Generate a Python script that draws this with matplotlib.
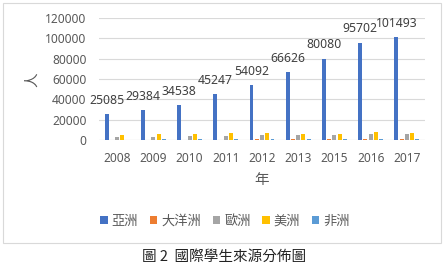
import numpy as np
import matplotlib
matplotlib.use("Agg")
import matplotlib.pyplot as plt
from matplotlib.patches import Rectangle

plt.rcParams['font.family'] = ['Noto Sans', 'Noto Sans CJK TC', 'DejaVu Sans']

years = ["2008", "2009", "2010", "2011", "2012", "2013", "2015", "2016", "2017"]
series_names = ["亞洲", "大洋洲", "歐洲", "美洲", "非洲"]
asia = [25085, 29384, 34538, 45247, 54092, 66626, 80080, 95702, 101493]
oceania = [300, 350, 400, 450, 500, 500, 550, 600, 600]
europe = [2500, 3200, 3500, 4000, 4500, 5000, 5300, 5800, 6000]
america = [4500, 5500, 5800, 6500, 6500, 6200, 6200, 7500, 7000]
africa = [300, 500, 800, 900, 1000, 1100, 1200, 1300, 1200]
colors = ["#4472C4", "#ED7D31", "#A5A5A5", "#FFC000", "#5B9BD5"]
yticks = [0, 20000, 40000, 60000, 80000, 100000, 120000]

txt = "#595959"
cjk = ['Noto Sans CJK TC', 'DejaVu Sans']
fig = plt.figure(figsize=(4.45, 2.64), dpi=100)
ax = fig.add_axes([99/445, 1 - 140/264, (425 - 99)/445, (140 - 18)/264])

x = np.arange(len(years))
step = 0.145
for i, (vals, c) in enumerate(zip([asia, oceania, europe, america, africa], colors)):
    bars = ax.bar(x + (i - 2) * step, vals, width=0.11, color=c, label=series_names[i], zorder=3)
    if i == 0:
        # data labels only on the Asia series
        for b, v in zip(bars, vals):
            ax.text(b.get_x() + b.get_width() / 2, v + 13500, str(v), ha="center", va="center",
                    fontsize=8.8, color="#404040")

ax.set_ylim(0, 120000)
ax.set_xlim(-0.5, len(years) - 0.5)
ax.set_yticks(yticks)
ax.set_yticklabels([str(t) for t in yticks])
ax.set_xticks(x)
ax.set_xticklabels(years)
ax.grid(axis="y", color="#D9D9D9", lw=0.8, zorder=0)
ax.tick_params(length=0, labelsize=8.6, labelcolor=txt)
ax.tick_params(axis="y", pad=9)
ax.tick_params(axis="x", pad=9)
for s in ax.spines.values():
    s.set_visible(False)
ax.axhline(0, color="#D9D9D9", lw=0.8, zorder=1)

fig.text(262/445, 1 - 180/264, "年", ha="center", va="center", fontsize=10.5, color=txt, family=cjk)
fig.text(32/445, 1 - 80/264, "人", ha="center", va="center", fontsize=10.5, color=txt, family=cjk,
         rotation=90)

leg = fig.legend(loc="center", bbox_to_anchor=(225/445, 1 - 221/264), ncol=5, frameon=False,
                 prop={'family': cjk, 'size': 9.5}, handlelength=0.55, handleheight=0.55,
                 handletextpad=0.3, columnspacing=0.9, labelcolor=txt)

fig.patches.append(Rectangle((3/445, 1 - 243/264), 438/445, 240/264, transform=fig.transFigure,
                             fill=False, edgecolor="#D9D9D9", lw=0.8))
fig.text(224/445, 1 - 257/264, "圖 2  國際學生來源分佈圖", ha="center", va="center", fontsize=10.5,
         color="#222222", family=cjk)

fig.savefig("out.png", dpi=100)
